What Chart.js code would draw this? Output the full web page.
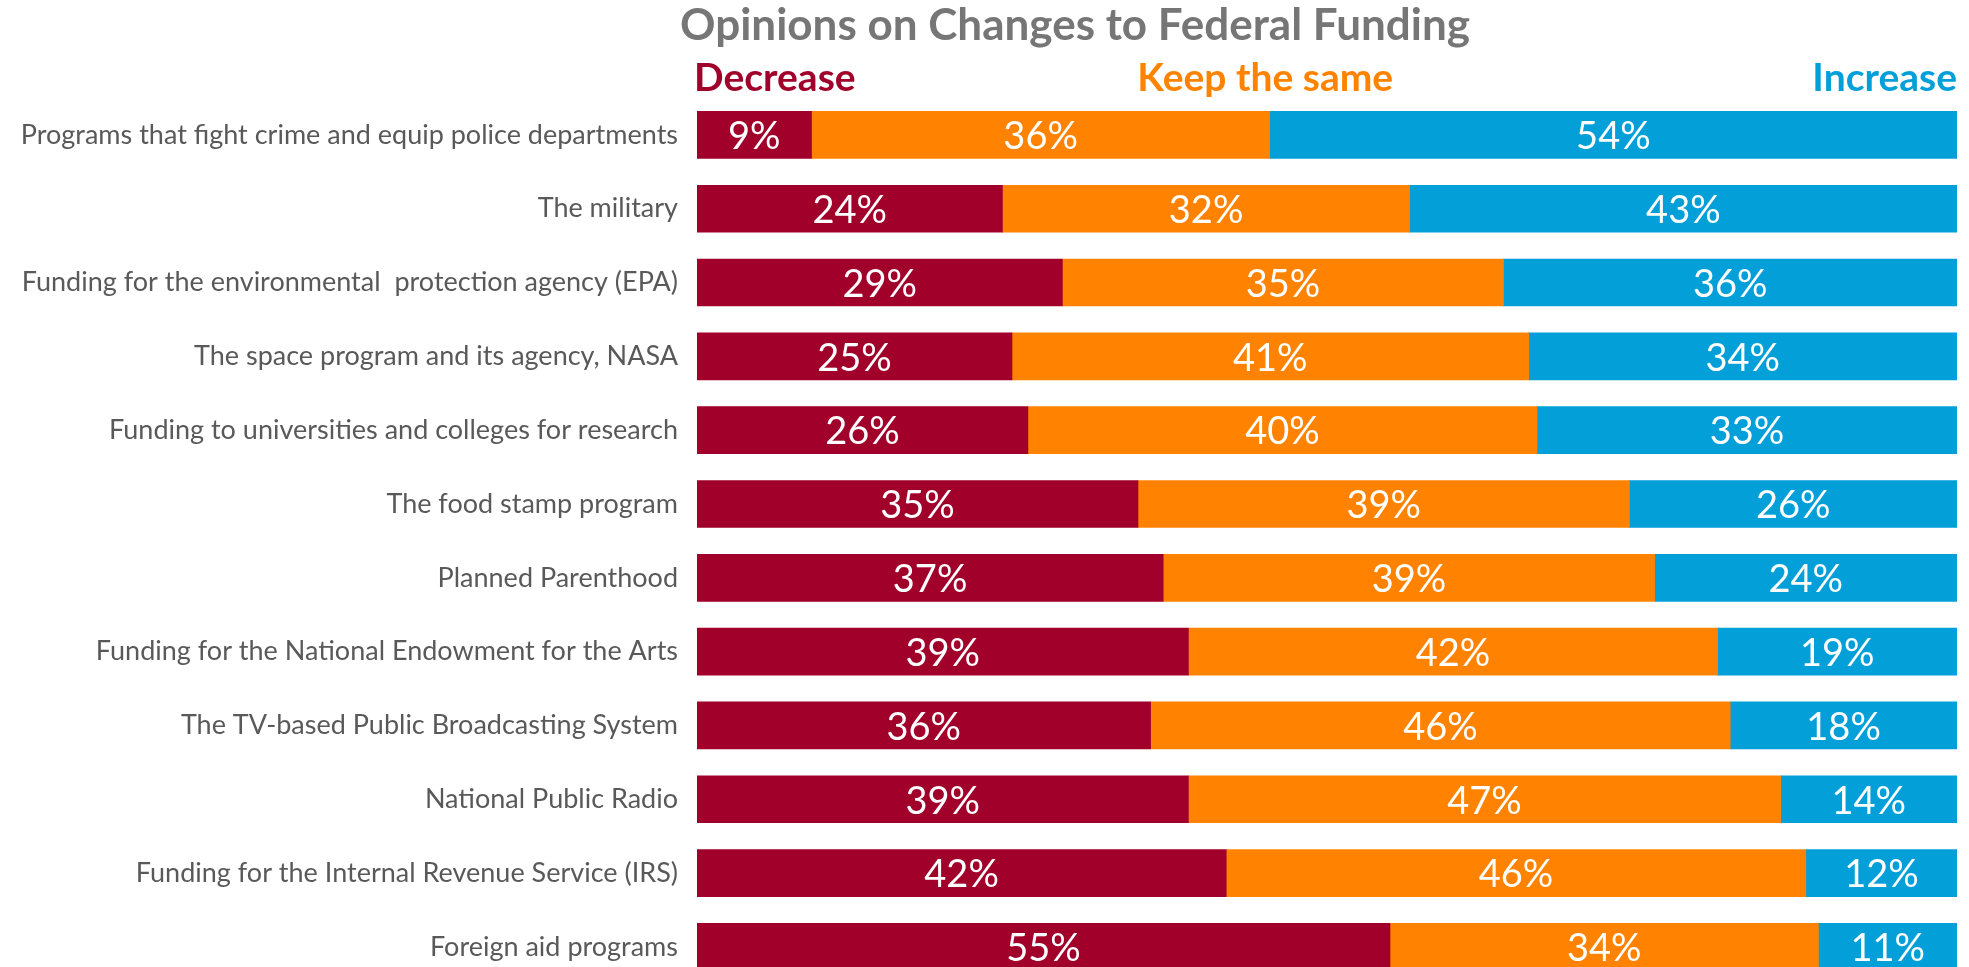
<!DOCTYPE html>
<html>
<head>
<meta charset="utf-8">
<script src="https://cdn.jsdelivr.net/npm/chart.js@4.4.1/dist/chart.umd.min.js"></script>
<style>
  html, body { margin: 0; padding: 0; background: #fff; overflow: hidden; }
  canvas { display: block; }
</style>
</head>
<body>
<canvas id="myChart" width="1969" height="1019"></canvas>
<script>
const categories = [
  "Programs that fight crime and equip police departments",
  "The military",
  "Funding for the environmental  protection agency (EPA)",
  "The space program and its agency, NASA",
  "Funding to universities and colleges for research",
  "The food stamp program",
  "Planned Parenthood",
  "Funding for the National Endowment for the Arts",
  "The TV-based Public Broadcasting System",
  "National Public Radio",
  "Funding for the Internal Revenue Service (IRS)",
  "Foreign aid programs",
];
const decrease = [9, 24, 29, 25, 26, 35, 37, 39, 36, 39, 42, 55];
const keepSame = [36, 32, 35, 41, 40, 39, 39, 42, 46, 47, 46, 34];
const increase = [54, 43, 36, 34, 33, 26, 24, 19, 18, 14, 12, 11];
const seriesNames = ["Decrease", "Keep the same", "Increase"];
const colors = ["#A0002A", "#FF8300", "#039FD9"];

const FONT = "Lato, 'Open Sans', sans-serif";

// 100% stacked: each row is shown as its share of the row total
const shareOf = (values) =>
  values.map((v, i) => (v / (decrease[i] + keepSame[i] + increase[i])) * 100);

const makeDataset = (label, values, color) => ({
  label: label,
  data: shareOf(values),
  raw: values,
  backgroundColor: color,
  borderWidth: 0,
  barThickness: 47,
});

const headerPlugin = {
  id: "headers",
  afterDraw: (chart) => {
    const { ctx, chartArea } = chart;
    ctx.save();
    ctx.textBaseline = "middle";
    ctx.fillStyle = "#767676";
    ctx.font = `bold 44px ${FONT}`;
    ctx.textAlign = "center";
    ctx.fillText("Opinions on Changes to Federal Funding", 1075, 26);

    ctx.font = `bold 39px ${FONT}`;
    ctx.fillStyle = colors[0];
    ctx.textAlign = "left";
    ctx.fillText(seriesNames[0], chartArea.left - 3, 78);
    ctx.fillStyle = colors[1];
    ctx.textAlign = "center";
    ctx.fillText(seriesNames[1], chartArea.left + chartArea.width * 0.451, 78);
    ctx.fillStyle = colors[2];
    ctx.textAlign = "right";
    ctx.fillText(seriesNames[2], chartArea.right, 78);
    ctx.restore();
  },
};

const valueLabelsPlugin = {
  id: "valueLabels",
  afterDatasetsDraw: (chart) => {
    const { ctx } = chart;
    ctx.save();
    ctx.fillStyle = "#fff";
    ctx.font = `38px ${FONT}`;
    ctx.textAlign = "center";
    ctx.textBaseline = "middle";
    chart.data.datasets.forEach((ds, di) => {
      chart.getDatasetMeta(di).data.forEach((bar, i) => {
        const cx = (bar.x + bar.base) / 2;
        ctx.fillText(`${ds.raw[i]}%`, cx, bar.y + 2);
      });
    });
    ctx.restore();
  },
};

const ctx = document.querySelector("canvas#myChart").getContext("2d");
const myChart = new Chart(ctx, {
  type: "bar",
  data: {
    labels: categories,
    datasets: [
      makeDataset(seriesNames[0], decrease, colors[0]),
      makeDataset(seriesNames[1], keepSame, colors[1]),
      makeDataset(seriesNames[2], increase, colors[2]),
    ],
  },
  options: {
    indexAxis: "y",
    responsive: false,
    animation: false,
    layout: { padding: { top: 98, right: 12, bottom: 6, left: 0 } },
    plugins: {
      legend: { display: false },
      title: { display: false },
      tooltip: { enabled: false },
    },
    scales: {
      x: {
        stacked: true,
        min: 0,
        max: 100,
        display: false,
      },
      y: {
        stacked: true,
        grid: { display: false, drawTicks: false },
        border: { display: false },
        afterFit: (scale) => {
          scale.width = 697;
        },
        ticks: {
          color: "#595959",
          padding: 19,
          font: { family: FONT, size: 27 },
        },
      },
    },
  },
  plugins: [headerPlugin, valueLabelsPlugin],
});
</script>
</body>
</html>
